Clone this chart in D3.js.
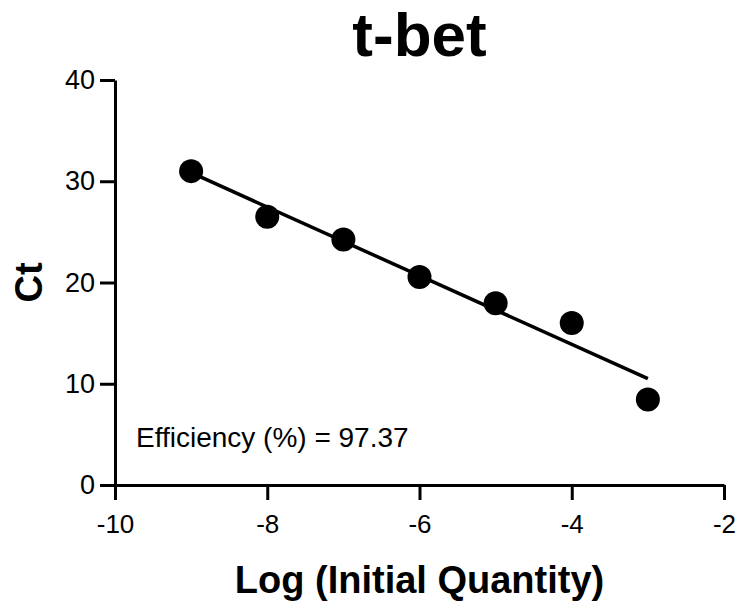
<!DOCTYPE html>
<html>
<head>
<meta charset="utf-8">
<script src="https://cdn.jsdelivr.net/npm/d3@7"></script>
<style>
  body { margin: 0; background: #fff; }
  text { font-family: "Liberation Sans", Arial, sans-serif; fill: #000; }
</style>
</head>
<body>
<svg></svg>
<script>
var logQty = [-9, -8, -7, -6, -5, -4, -3];
var ctValues = [31.0, 26.5, 24.25, 20.55, 17.95, 16.0, 8.45];
var xTicks = [-10, -8, -6, -4, -2];
var yTicks = [0, 10, 20, 30, 40];
var titleText = "t-bet";
var efficiencyText = "Efficiency (%) = 97.37";

var svgWidth = 739;
var svgHeight = 606;

var svg = d3.select("svg")
    .attr("width", svgWidth)
    .attr("height", svgHeight);

var xScale = d3.scaleLinear()
    .domain([-10, -2])
    .range([115, 724]);

var yScale = d3.scaleLinear()
    .domain([0, 40])
    .range([485, 80]);

// linear fit through the points
var mx = d3.mean(logQty), my = d3.mean(ctValues);
var sxy = d3.sum(logQty, function(x, i) { return (x - mx) * (ctValues[i] - my); });
var sxx = d3.sum(logQty, function(x) { return (x - mx) * (x - mx); });
var slope = sxy / sxx;
var intercept = my - slope * mx;
var fitX = d3.extent(logQty);

var xAxis = d3.axisBottom(xScale).tickValues(xTicks).tickSize(15).tickPadding(15)
    .tickSizeOuter(0).tickFormat(function(d) { return String(d); });
var yAxis = d3.axisLeft(yScale).tickValues(yTicks).tickSize(15).tickPadding(5)
    .tickSizeOuter(0).tickFormat(function(d) { return String(d); });

function styleAxis(size) {
    return function(g) {
        g.select(".domain").attr("stroke", "#000").attr("stroke-width", 3);
        g.selectAll(".tick line").attr("stroke", "#000").attr("stroke-width", 3);
        g.selectAll(".tick text").attr("font-size", size).attr("fill", "#000")
            .style("font-family", "'Liberation Sans', Arial, sans-serif");
    };
}

svg.append("g")
    .attr("transform", "translate(0," + yScale(0) + ")")
    .call(xAxis)
    .call(styleAxis(26));

svg.append("g")
    .attr("transform", "translate(" + xScale(-10) + ",0)")
    .call(yAxis)
    .call(styleAxis(27));

svg.append("line")
    .attr("x1", xScale(fitX[0]))
    .attr("y1", yScale(intercept + slope * fitX[0]))
    .attr("x2", xScale(fitX[1]))
    .attr("y2", yScale(intercept + slope * fitX[1]))
    .attr("stroke", "#000")
    .attr("stroke-width", 3.5);

svg.selectAll("circle.pt")
    .data(logQty)
    .enter()
    .append("circle")
    .attr("class", "pt")
    .attr("cx", function(d) { return xScale(d); })
    .attr("cy", function(d, i) { return yScale(ctValues[i]); })
    .attr("r", 12)
    .attr("fill", "#000");

svg.append("text")
    .attr("x", (xScale(-10) + xScale(-2)) / 2)
    .attr("y", 56)
    .attr("text-anchor", "middle")
    .attr("font-size", 62)
    .attr("font-weight", "bold")
    .text(titleText);

svg.append("text")
    .attr("x", (xScale(-10) + xScale(-2)) / 2)
    .attr("y", 593)
    .attr("text-anchor", "middle")
    .attr("font-size", 38)
    .attr("font-weight", "bold")
    .text("Log (Initial Quantity)");

svg.append("text")
    .attr("transform", "translate(42," + (yScale(0) + yScale(40)) / 2 + ") rotate(-90)")
    .attr("text-anchor", "middle")
    .attr("font-size", 38)
    .attr("font-weight", "bold")
    .text("Ct");

svg.append("text")
    .attr("x", 136)
    .attr("y", 447)
    .attr("font-size", 28)
    .text(efficiencyText);
</script>
</body>
</html>
